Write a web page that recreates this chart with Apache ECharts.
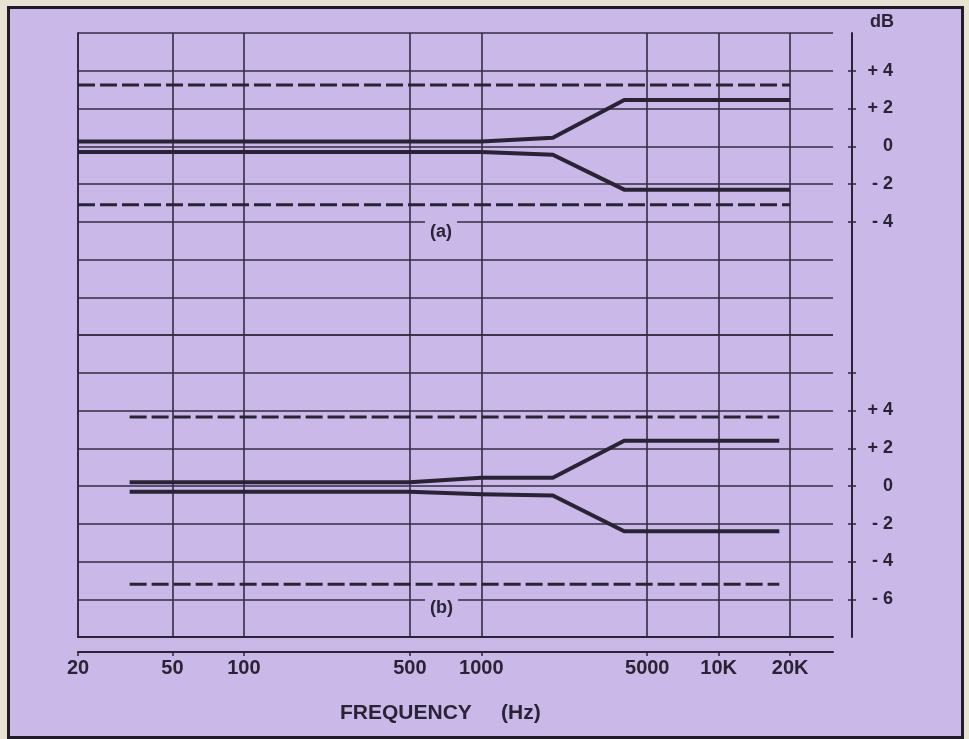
<!DOCTYPE html>
<html><head><meta charset="utf-8">
<script src="https://cdn.jsdelivr.net/npm/echarts@6/dist/echarts.min.js"></script>
<style>
html,body{margin:0;padding:0;background:#e7e2d2;overflow:hidden;}
#frame{position:absolute;left:7px;top:6px;width:951px;height:727px;border:3px solid #201b27;background:#c9b8e8;}
#chart{position:absolute;left:0;top:0;width:969px;height:739px;}
</style></head><body>
<div id="frame"></div><div id="chart"></div>
<script>
// ---- data ----
const freqTicks = [20, 50, 100, 500, 1000, 5000, 10000, 20000];
const freqLabels = ['20', '50', '100', '500', '1000', '5000', '10K', '20K'];
const dbTicksA = [4, 2, 0, -2, -4];
const dbTicksB = [4, 2, 0, -2, -4, -6];
const dbTickMarksB = [6, 4, 2, 0, -2, -4, -6];

// (a) response limits
const aUpper = [[20, 0.25], [1000, 0.25], [2000, 0.45], [4000, 2.45], [20000, 2.45]];
const aLower = [[20, -0.3], [1000, -0.3], [2000, -0.45], [4000, -2.3], [20000, -2.3]];
const aTolUp = [[20, 3.25], [20000, 3.25]];
const aTolLo = [[20, -3.1], [20000, -3.1]];

// (b) response limits
const bUpper = [[33, 0.2], [500, 0.2], [1000, 0.44], [2000, 0.44], [4000, 2.4], [18000, 2.4]];
const bLower = [[33, -0.3], [500, -0.3], [1000, -0.44], [2000, -0.5], [4000, -2.4], [18000, -2.4]];
const bTolUp = [[33, 3.65], [18000, 3.65]];
const bTolLo = [[33, -5.2], [18000, -5.2]];

// ---- styles ----
const INK = '#2a2335';
const GRID = '#342c42';
const FONT = "'Liberation Sans', Arial, sans-serif";
const BG = '#c9b8e8';

function dbFmt(v) {
  if (v > 0) return '+ ' + v;
  if (v < 0) return '- ' + Math.abs(v);
  return '0';
}
function freqFmt(v) {
  const i = freqTicks.indexOf(Math.round(v));
  return i >= 0 ? freqLabels[i] : '';
}

const chart = echarts.init(document.getElementById('chart'), null, {renderer: 'canvas'});

function xAxisBase(gridIndex) {
  return {
    type: 'log', logBase: 10, min: 20, max: 30300, gridIndex: gridIndex,
    axisLine: {show: false},
    axisTick: {show: false, customValues: freqTicks},
    axisLabel: {show: false, customValues: freqTicks},
    splitLine: {show: true, lineStyle: {color: GRID, width: 1.6}}
  };
}

function rightAxis(gridIndex, min, max, labels, ticks, inside, showLine, name) {
  return {
    type: 'value', gridIndex: gridIndex, position: 'right', offset: 19,
    min: min, max: max, interval: 2,
    name: name || '', nameLocation: 'end', nameGap: 2,
    nameTextStyle: {color: INK, fontFamily: FONT, fontWeight: 'bold', fontSize: 18,
      align: 'left', verticalAlign: 'bottom', padding: [0, 0, 0, 18]},
    axisLine: {show: showLine, lineStyle: {color: INK, width: 2}},
    axisTick: {show: true, inside: inside, length: 4, customValues: ticks, lineStyle: {color: INK, width: 1.5}},
    axisLabel: {show: !inside, customValues: labels, formatter: dbFmt, align: 'right', margin: 41,
      color: INK, fontFamily: FONT, fontWeight: 'bold', fontSize: 18},
    splitLine: {show: false}
  };
}

function leftAxis(gridIndex, min, max) {
  return {
    type: 'value', gridIndex: gridIndex, position: 'left',
    min: min, max: max, interval: 2,
    axisLine: {show: true, lineStyle: {color: GRID, width: 2}},
    axisTick: {show: false}, axisLabel: {show: false},
    splitLine: {show: true, lineStyle: {color: GRID, width: 1.6}}
  };
}

function solid(data, xi, yi) {
  return {type: 'line', data: data, xAxisIndex: xi, yAxisIndex: yi, symbol: 'none', silent: true,
    lineStyle: {color: INK, width: 4, cap: 'butt', join: 'miter'}, z: 5};
}
function dashed(data, xi, yi) {
  return {type: 'line', data: data, xAxisIndex: xi, yAxisIndex: yi, symbol: 'none', silent: true,
    lineStyle: {color: INK, width: 3, type: [17, 5], cap: 'butt'}, z: 4};
}

const bottomX = xAxisBase(1);
bottomX.axisLine = {show: true, onZero: false, lineStyle: {color: INK, width: 2}};
bottomX.offset = 15;
bottomX.position = 'bottom';
bottomX.axisTick = {show: true, length: 4, customValues: freqTicks, lineStyle: {color: INK, width: 1.5}};
bottomX.axisLabel = {show: true, customValues: freqTicks, formatter: freqFmt, margin: 6,
  color: INK, fontFamily: FONT, fontWeight: 'bold', fontSize: 20};

const frameX = {
  type: 'log', logBase: 10, min: 20, max: 30300, gridIndex: 1, position: 'bottom',
  axisLine: {show: true, onZero: false, lineStyle: {color: INK, width: 2.2}},
  axisTick: {show: false}, axisLabel: {show: false}, splitLine: {show: false}
};

const option = {
  animation: false,
  backgroundColor: 'transparent',
  title: {
    text: 'FREQUENCY     (Hz)', left: 340, top: 703, padding: 0,
    textStyle: {color: INK, fontFamily: FONT, fontWeight: 'bold', fontSize: 21}
  },
  grid: [
    {left: 78, right: 136, top: 33, height: 302},
    {left: 78, right: 136, top: 335, height: 302}
  ],
  xAxis: [xAxisBase(0), bottomX, frameX],
  yAxis: [
    rightAxis(0, -10, 6, dbTicksA, dbTicksA, false, true, 'dB'),
    leftAxis(0, -10, 6),
    rightAxis(0, -10, 6, dbTicksA, dbTicksA, true, false),
    rightAxis(1, -8, 8, dbTicksB, dbTickMarksB, false, true),
    leftAxis(1, -8, 8),
    rightAxis(1, -8, 8, dbTicksB, dbTickMarksB, true, false)
  ],
  series: [
    dashed(aTolUp, 0, 0), dashed(aTolLo, 0, 0),
    solid(aUpper, 0, 0), solid(aLower, 0, 0),
    dashed(bTolUp, 1, 3), dashed(bTolLo, 1, 3),
    solid(bUpper, 1, 3), solid(bLower, 1, 3)
  ],
  graphic: [
    {type: 'text', left: 425, top: 217, z: 100,
      style: {text: '(a)', fill: INK, font: "bold 18px 'Liberation Sans', Arial, sans-serif",
        backgroundColor: BG, padding: [6, 5, 1, 5]}},
    {type: 'text', left: 425, top: 593, z: 100,
      style: {text: '(b)', fill: INK, font: "bold 18px 'Liberation Sans', Arial, sans-serif",
        backgroundColor: BG, padding: [6, 5, 1, 5]}}
  ]
};
chart.setOption(option);
</script>
</body></html>
